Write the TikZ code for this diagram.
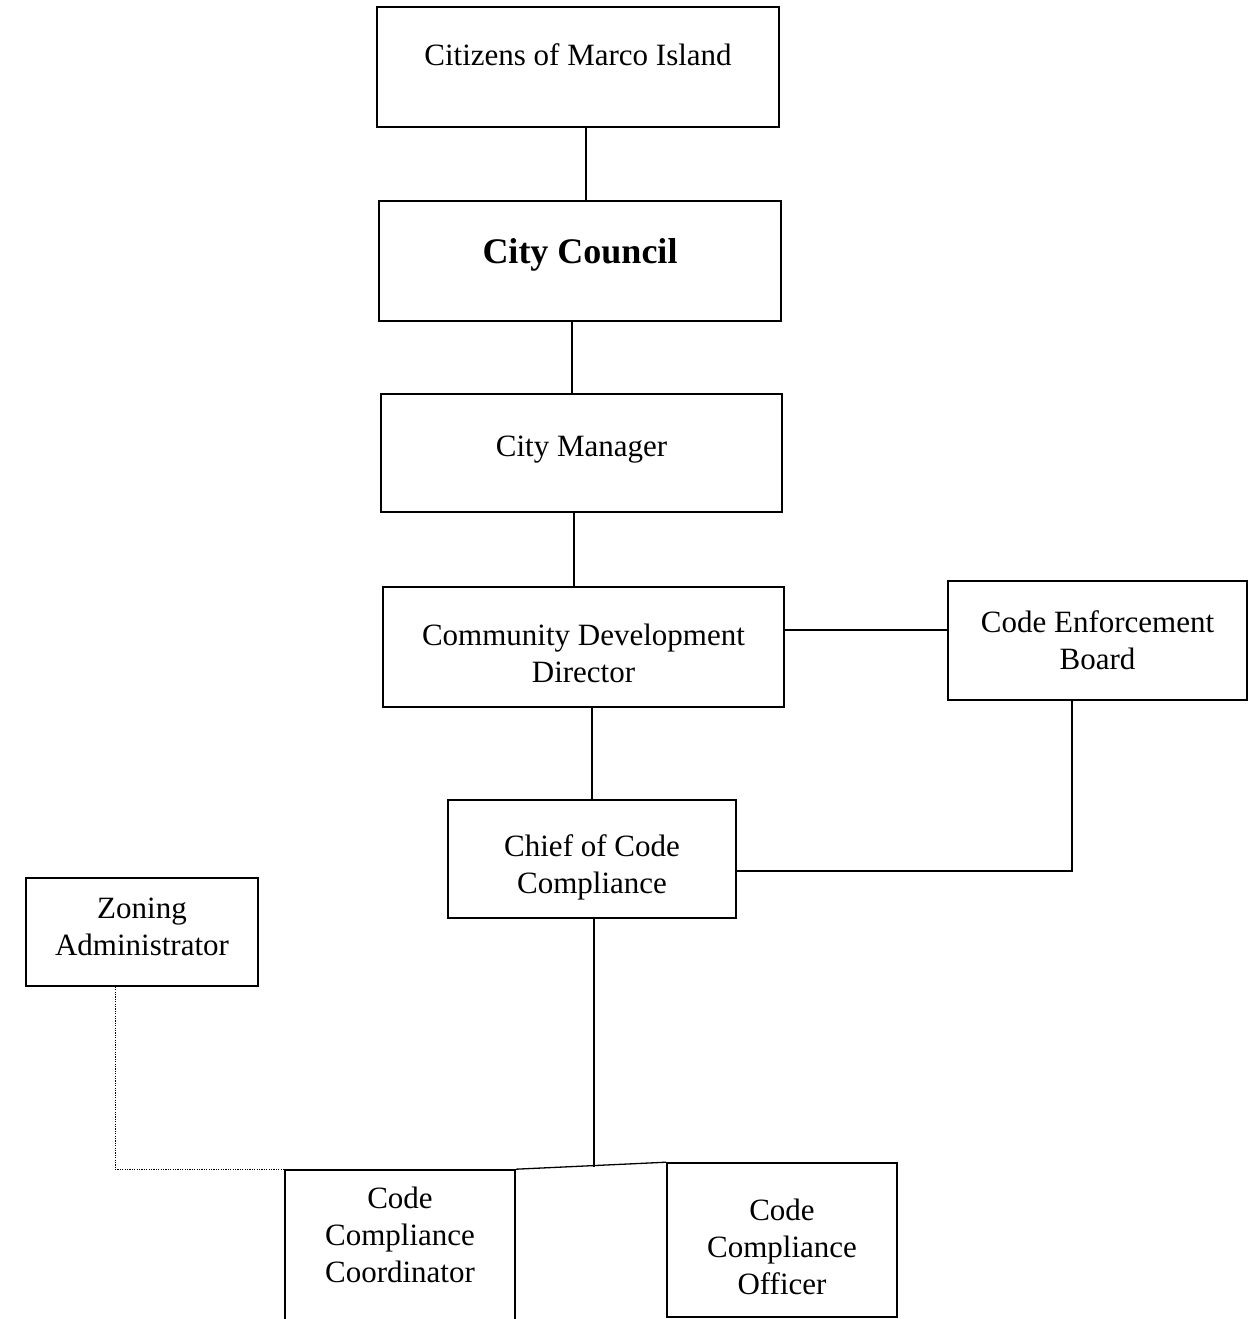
\documentclass[tikz,border=0pt]{standalone}
\usepackage{fontspec}
\setmainfont{Liberation Serif}
\begin{document}
\begin{tikzpicture}[x=1pt,y=-1pt,
  box/.style={draw, line width=1.6pt, rectangle, inner sep=0pt},
  txt/.style={font=\fontsize{31}{37}\selectfont, align=center},
  link/.style={line width=1.3pt},
  dotlink/.style={line width=1pt, dash pattern=on 1.2pt off 1.2pt}]
\useasboundingbox (0,0) rectangle (1249,1319);

% boxes
\node[box, minimum width=402pt, minimum height=120pt,
  label={[txt, yshift=12pt]center:Citizens of Marco Island}] (cit) at (578,67) {};
\node[box, minimum width=402pt, minimum height=120pt,
  label={[font=\fontsize{36}{43}\selectfont\bfseries, yshift=6pt]center:City Council}] (cc) at (580,261) {};
\node[box, minimum width=401pt, minimum height=118pt,
  label={[txt, yshift=3pt]center:City Manager}] (cm) at (581.5,453) {};
\node[box, minimum width=401pt, minimum height=120pt,
  label={[txt, yshift=-6pt]center:Community Development\\Director}] (cdd) at (583.5,647) {};
\node[box, minimum width=299pt, minimum height=119pt,
  label={[txt]center:Code Enforcement\\Board}] (ceb) at (1097.5,640.5) {};
\node[box, minimum width=288pt, minimum height=118pt,
  label={[txt, yshift=-8pt]center:Chief of Code\\Compliance}] (chief) at (592,859) {};
\node[box, minimum width=232pt, minimum height=108pt,
  label={[txt, yshift=5pt]center:Zoning\\Administrator}] (zon) at (142,932) {};
\node[box, minimum width=230pt, minimum height=165pt,
  label={[txt, yshift=17.5pt]center:Code\\Compliance\\Coordinator}] (coord) at (400,1252.5) {};
\node[box, minimum width=230pt, minimum height=154pt,
  label={[txt, yshift=-7pt]center:Code\\Compliance\\Officer}] (off) at (782,1240) {};

% connectors
\draw[link] ([xshift=8pt]cit.south) -- ([xshift=8pt]cit.south |- cc.north);
\draw[link] ([xshift=-8pt]cc.south) -- ([xshift=-8pt]cc.south |- cm.north);
\draw[link] ([xshift=-7.5pt]cm.south) -- ([xshift=-7.5pt]cm.south |- cdd.north);
\draw[link] ([yshift=17pt]cdd.east) -- ([yshift=17pt]cdd.east -| ceb.west);
\draw[link] (chief.north) -- (chief.north |- cdd.south);
\draw[link] ([xshift=-25.5pt]ceb.south) |- ([yshift=-12pt]chief.east);
\coordinate (j) at (594,1167);
\draw[link] (chief.south -| j) -- (j);
\draw[link] (coord.north east) -- (off.north west);
\draw[dotlink] ([xshift=-27pt]zon.south) |- (coord.north west);
\end{tikzpicture}
\end{document}
